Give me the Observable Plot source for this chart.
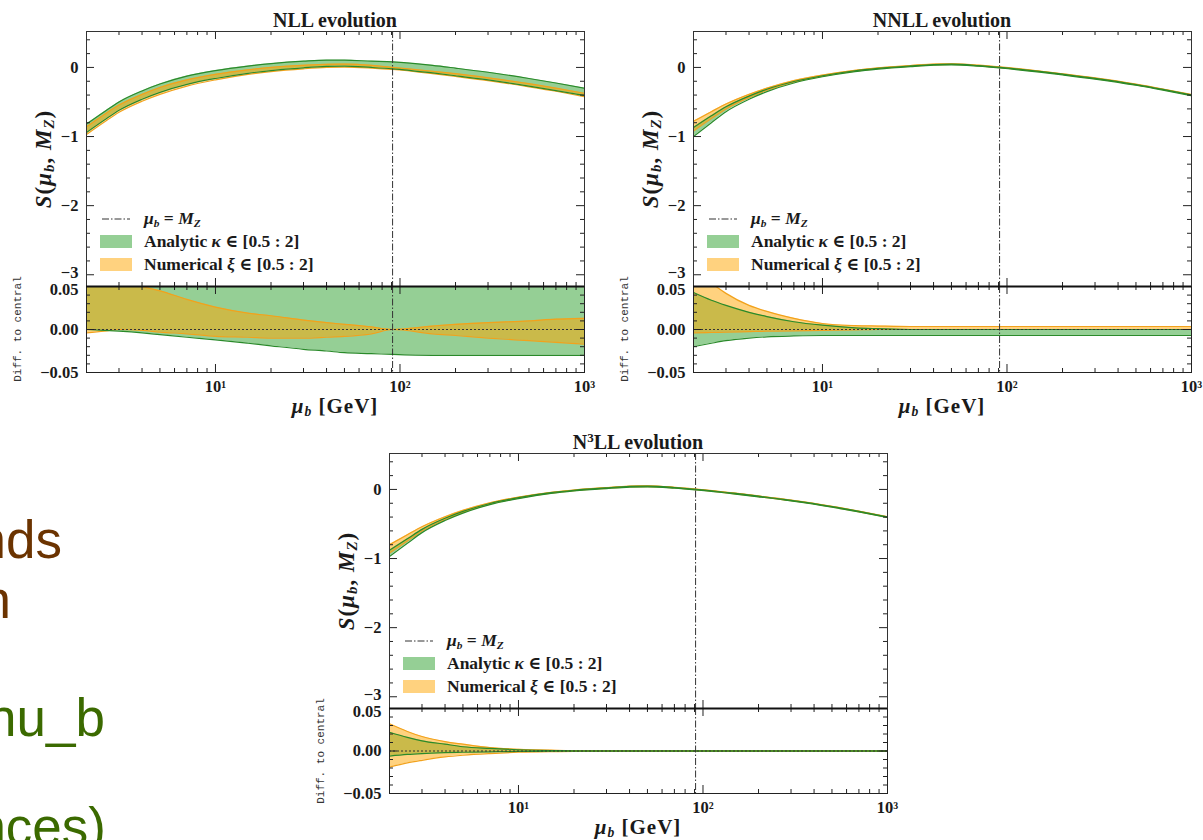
<!DOCTYPE html>
<html><head><meta charset="utf-8">
<script src="https://cdn.jsdelivr.net/npm/d3@7"></script>
<script src="https://cdn.jsdelivr.net/npm/@observablehq/plot@0.6"></script>
<style>
body{margin:0;background:#fff;}
#root{position:relative;width:1203px;height:840px;overflow:hidden;background:#fff;font-family:"Liberation Serif","DejaVu Serif",serif;color:#1a1a1a;}
.abs{position:absolute;white-space:nowrap;line-height:1;}
.c{transform:translate(-50%,-50%);}
.rot{transform:translate(-50%,-50%) rotate(-90deg);}
.title{font-weight:bold;font-size:20px;}
.ylab{font-weight:bold;font-size:23px;letter-spacing:1px;}
.rlab{font-family:"Liberation Mono",monospace;font-size:11px;color:#333;}
.xlab{font-weight:bold;font-size:21px;letter-spacing:1px;}
.leg{font-weight:bold;font-size:17.5px;}
.frag{font-family:"Liberation Sans",Arial,sans-serif;font-size:53px;line-height:53px;text-align:right;}
sub{font-size:65%;vertical-align:-0.25em;line-height:0;}
sup{font-size:65%;vertical-align:0.55em;line-height:0;}
</style></head><body><div id="root"></div><script>
// ---- data ----
const mu = [2, 2.5, 3, 4, 5, 7, 10, 15, 20, 30, 40, 50, 70, 91.19, 150, 200, 300, 500, 700, 1000];
const MZ = 91.1876;

// main panels S(mu_b, M_Z): band edges
const nllGreenLo  = [-0.94, -0.76, -0.62, -0.46, -0.36, -0.245, -0.16, -0.085, -0.045, -0.005, 0.015, 0.02, 0.0, -0.02, -0.08, -0.12, -0.18, -0.27, -0.335, -0.405];
const nllGreenHi  = [-0.82, -0.64, -0.50, -0.34, -0.24, -0.125, -0.045, 0.02, 0.055, 0.09, 0.105, 0.105, 0.09, 0.08, 0.03, -0.01, -0.07, -0.16, -0.225, -0.30];
const nllOrangeLo = [-0.97, -0.79, -0.65, -0.49, -0.39, -0.27, -0.18, -0.10, -0.06, -0.02, 0.0, 0.005, -0.01, -0.03, -0.09, -0.13, -0.19, -0.28, -0.345, -0.425];
const nllOrangeHi = [-0.86, -0.68, -0.545, -0.39, -0.29, -0.18, -0.10, -0.035, 0.0, 0.03, 0.045, 0.048, 0.03, 0.0, -0.055, -0.09, -0.15, -0.235, -0.30, -0.375];

const nnllGreenLo  = [-1.00, -0.80, -0.64, -0.46, -0.35, -0.225, -0.135, -0.06, -0.024, 0.012, 0.032, 0.037, 0.017, -0.008, -0.068, -0.108, -0.168, -0.258, -0.328, -0.408];
const nnllGreenHi  = [-0.87, -0.70, -0.57, -0.415, -0.315, -0.203, -0.12, -0.048, -0.013, 0.022, 0.042, 0.047, 0.027, 0.002, -0.058, -0.098, -0.158, -0.248, -0.318, -0.398];
const nnllOrangeLo = [-0.92, -0.74, -0.60, -0.435, -0.33, -0.21, -0.125, -0.053, -0.017, 0.018, 0.038, 0.043, 0.023, -0.002, -0.062, -0.102, -0.162, -0.252, -0.322, -0.402];
const nnllOrangeHi = [-0.78, -0.64, -0.53, -0.39, -0.30, -0.19, -0.11, -0.042, -0.007, 0.028, 0.048, 0.053, 0.033, 0.008, -0.052, -0.092, -0.152, -0.242, -0.312, -0.392];

const n3llGreenLo  = [-0.97, -0.78, -0.625, -0.45, -0.343, -0.22, -0.132, -0.058, -0.022, 0.013, 0.033, 0.038, 0.018, -0.007, -0.067, -0.107, -0.167, -0.257, -0.327, -0.407];
const n3llGreenHi  = [-0.88, -0.715, -0.578, -0.418, -0.318, -0.203, -0.118, -0.047, -0.012, 0.023, 0.043, 0.048, 0.028, 0.003, -0.057, -0.097, -0.157, -0.247, -0.317, -0.397];
const n3llOrangeLo = [-0.92, -0.745, -0.60, -0.435, -0.332, -0.212, -0.126, -0.054, -0.018, 0.016, 0.036, 0.041, 0.021, -0.004, -0.064, -0.104, -0.164, -0.254, -0.324, -0.404];
const n3llOrangeHi = [-0.80, -0.655, -0.54, -0.395, -0.302, -0.193, -0.112, -0.043, -0.008, 0.027, 0.047, 0.052, 0.032, 0.006, -0.054, -0.094, -0.154, -0.244, -0.314, -0.394];

// ratio panels: difference to central
const nllDiffGreenLo  = [0.0, -0.001, -0.002, -0.004, -0.006, -0.009, -0.012, -0.016, -0.019, -0.023, -0.025, -0.027, -0.028, -0.029, -0.030, -0.030, -0.030, -0.030, -0.030, -0.030];
const nllDiffGreenHi  = [0.08, 0.08, 0.08, 0.08, 0.08, 0.08, 0.08, 0.08, 0.08, 0.08, 0.08, 0.08, 0.08, 0.08, 0.08, 0.08, 0.08, 0.08, 0.08, 0.08];
const nllDiffOrangeLo = [-0.004, -0.002, 0.0, -0.001, -0.003, -0.005, -0.008, -0.009, -0.010, -0.010, -0.009, -0.008, -0.005, 0.0, -0.005, -0.007, -0.010, -0.013, -0.015, -0.017];
const nllDiffOrangeHi = [0.08, 0.065, 0.058, 0.05, 0.045, 0.035, 0.026, 0.019, 0.016, 0.011, 0.008, 0.006, 0.003, 0.0, 0.004, 0.006, 0.008, 0.010, 0.012, 0.013];

const nnllDiffGreenLo  = [-0.020, -0.016, -0.013, -0.010, -0.0085, -0.0075, -0.007, -0.007, -0.007, -0.007, -0.007, -0.007, -0.007, -0.007, -0.007, -0.007, -0.007, -0.007, -0.007, -0.007];
const nnllDiffGreenHi  = [0.043, 0.034, 0.028, 0.020, 0.015, 0.009, 0.005, 0.002, 0.001, 0.0, 0.0, 0.0, 0.0, 0.0, 0.0, 0.0, 0.0, 0.0, 0.0, 0.0];
const nnllDiffOrangeLo = [-0.004, -0.0035, -0.003, -0.0025, -0.002, -0.0015, -0.001, -0.0005, 0.0, 0.0, 0.0, 0.0, 0.0, 0.0, 0.0, 0.0, 0.0, 0.0, 0.0, 0.0];
const nnllDiffOrangeHi = [0.07, 0.054, 0.042, 0.028, 0.021, 0.013, 0.007, 0.0045, 0.004, 0.0035, 0.0035, 0.0035, 0.0035, 0.0035, 0.0035, 0.0035, 0.0035, 0.0035, 0.0035, 0.0035];

const n3llDiffGreenLo  = [-0.006, -0.004, -0.003, -0.002, -0.0015, -0.001, -0.0005, -0.0003, -0.0003, -0.0003, -0.0003, -0.0003, -0.0003, -0.0003, -0.0003, -0.0003, -0.0003, -0.0003, -0.0003, -0.0003];
const n3llDiffGreenHi  = [0.022, 0.016, 0.012, 0.008, 0.005, 0.003, 0.0015, 0.0005, 0.0003, 0.0003, 0.0003, 0.0003, 0.0003, 0.0003, 0.0003, 0.0003, 0.0003, 0.0003, 0.0003, 0.0003];
const n3llDiffOrangeLo = [-0.019, -0.014, -0.011, -0.007, -0.005, -0.003, -0.0015, -0.0008, -0.0006, -0.0006, -0.0006, -0.0006, -0.0006, -0.0006, -0.0006, -0.0006, -0.0006, -0.0006, -0.0006, -0.0006];
const n3llDiffOrangeHi = [0.032, 0.023, 0.017, 0.011, 0.008, 0.004, 0.002, 0.001, 0.0006, 0.0006, 0.0006, 0.0006, 0.0006, 0.0006, 0.0006, 0.0006, 0.0006, 0.0006, 0.0006, 0.0006];

// tick values
const majorX = [10, 100, 1000];
const minorX = [3, 4, 5, 6, 7, 8, 9, 20, 30, 40, 50, 60, 70, 80, 90, 200, 300, 400, 500, 600, 700, 800, 900];
const majorYMain = [-3, -2, -1, 0];
const minorYMain = [-2.8, -2.6, -2.4, -2.2, -1.8, -1.6, -1.4, -1.2, -0.8, -0.6, -0.4, -0.2, 0.2, 0.4];
const majorYDiff = [-0.05, 0, 0.05];
const minorYDiff = [-0.04, -0.03, -0.02, -0.01, 0.01, 0.02, 0.03, 0.04];
const xTickLabels = ["10\u00B9", "10\u00B2", "10\u00B3"];

const titles = ["NLL evolution", "NNLL evolution", "N<sup>3</sup>LL evolution"];
const legendLabels = ["<i>\u03BC<sub>b</sub></i> = <i>M<sub>Z</sub></i>", "Analytic <i>\u03BA</i> \u2208 [0.5 : 2]", "Numerical <i>\u03BE</i> \u2208 [0.5 : 2]"];

// ---- styling / layout ----
const GREEN = "#2ca02c", ORANGE = "#ffa500";
const GREEN_EDGE = "#2a8a2a", ORANGE_EDGE = "#f2a21c";
const SERIF = '"Liberation Serif","DejaVu Serif",serif';
const ML = 80, MR = 2, MT = 2, MB = 34;
const XDOM = [2, 1000], YMAIN = [-3.17, 0.52], YDIFF = [-0.05, 0.05];

const panels = [
  {left: 86, top: 31, width: 498, mainH: 255, ratioH: 86,
   main: [nllGreenLo, nllGreenHi, nllOrangeLo, nllOrangeHi],
   diff: [nllDiffGreenLo, nllDiffGreenHi, nllDiffOrangeLo, nllDiffOrangeHi]},
  {left: 693, top: 31, width: 498, mainH: 255, ratioH: 86,
   main: [nnllGreenLo, nnllGreenHi, nnllOrangeLo, nnllOrangeHi],
   diff: [nnllDiffGreenLo, nnllDiffGreenHi, nnllDiffOrangeLo, nnllDiffOrangeHi]},
  {left: 389, top: 453, width: 498, mainH: 255, ratioH: 85,
   main: [n3llGreenLo, n3llGreenHi, n3llOrangeLo, n3llOrangeHi],
   diff: [n3llDiffGreenLo, n3llDiffGreenHi, n3llDiffOrangeLo, n3llDiffOrangeHi]}
];

const root = document.getElementById("root");
function place(el, left, top) {
  el.style.position = "absolute"; el.style.left = left + "px"; el.style.top = top + "px";
  root.appendChild(el);
}
function html(cls, x, y, content, extra) {
  const d = document.createElement("div");
  d.className = "abs " + cls;
  d.style.left = x + "px"; d.style.top = y + "px";
  if (extra) Object.assign(d.style, extra);
  d.innerHTML = content;
  root.appendChild(d);
  return d;
}

function bandMarks(rows) {
  const c = "monotone-x";
  return [
    Plot.areaY(rows, {x: "mu", y1: "gLo", y2: "gHi", fill: GREEN, fillOpacity: 0.5, curve: c, clip: true}),
    Plot.areaY(rows, {x: "mu", y1: "oLo", y2: "oHi", fill: ORANGE, fillOpacity: 0.5, curve: c, clip: true}),
    Plot.line(rows, {x: "mu", y: "oLo", stroke: ORANGE_EDGE, strokeWidth: 1.2, curve: c, clip: true}),
    Plot.line(rows, {x: "mu", y: "oHi", stroke: ORANGE_EDGE, strokeWidth: 1.2, curve: c, clip: true}),
    Plot.line(rows, {x: "mu", y: "gLo", stroke: GREEN_EDGE, strokeWidth: 1.2, curve: c, clip: true}),
    Plot.line(rows, {x: "mu", y: "gHi", stroke: GREEN_EDGE, strokeWidth: 1.2, curve: c, clip: true})
  ];
}
function tickMarks(W, H, majY, minY) {
  const s = {stroke: "#222", strokeWidth: 1};
  return [
    Plot.tickX(minorX, {...s, insetTop: H - 4}),
    Plot.tickX(minorX, {...s, insetBottom: H - 4}),
    Plot.tickX(majorX, {...s, insetTop: H - 8}),
    Plot.tickX(majorX, {...s, insetBottom: H - 8}),
    Plot.tickY(minY, {...s, insetRight: W - 4}),
    Plot.tickY(minY, {...s, insetLeft: W - 4}),
    Plot.tickY(majY, {...s, insetRight: W - 8}),
    Plot.tickY(majY, {...s, insetLeft: W - 8})
  ];
}
const fmtMain = d => d === 0 ? "0" : (d < 0 ? "\u2212" : "") + Math.abs(d);
const fmtDiff = d => d === 0 ? "0.00" : (d < 0 ? "\u2212" : "") + Math.abs(d).toFixed(2);
const fmtX = d => xTickLabels[majorX.indexOf(d)];
const plotStyle = {fontFamily: SERIF, fontSize: "16.5px", fontWeight: "bold", color: "#1a1a1a", background: "transparent", overflow: "visible"};
const axisText = {fontSize: 16.5, fontWeight: "bold", fontFamily: SERIF, tickSize: 0, tickPadding: 8, label: null};

panels.forEach((p, k) => {
  const W = p.width;
  const mainRows = mu.map((m, i) => ({mu: m, gLo: p.main[0][i], gHi: p.main[1][i], oLo: p.main[2][i], oHi: p.main[3][i]}));
  const diffRows = mu.map((m, i) => ({mu: m, gLo: p.diff[0][i], gHi: p.diff[1][i], oLo: p.diff[2][i], oHi: p.diff[3][i]}));

  const main = Plot.plot({
    width: ML + W + MR, height: MT + p.mainH,
    marginLeft: ML, marginRight: MR, marginTop: MT, marginBottom: 0,
    style: plotStyle,
    x: {type: "log", domain: XDOM, axis: null},
    y: {domain: YMAIN},
    marks: [
      ...bandMarks(mainRows),
      Plot.ruleX([MZ], {stroke: "#333", strokeWidth: 1, strokeDasharray: "7,2,1.5,2"}),
      ...tickMarks(W, p.mainH, majorYMain, minorYMain),
      Plot.axisY({...axisText, ticks: majorYMain.slice(1), tickFormat: fmtMain}),
      Plot.axisY({...axisText, ticks: majorYMain.slice(0, 1), tickFormat: fmtMain, dy: -2}),
      Plot.frame({stroke: "#333", strokeWidth: 1})
    ]
  });
  place(main, p.left - ML, p.top - MT);

  const ratio = Plot.plot({
    width: ML + W + MR, height: p.ratioH + MB,
    marginLeft: ML, marginRight: MR, marginTop: 0, marginBottom: MB,
    style: plotStyle,
    x: {type: "log", domain: XDOM},
    y: {domain: YDIFF},
    marks: [
      ...bandMarks(diffRows),
      Plot.ruleY([0], {stroke: "#333", strokeWidth: 1, strokeDasharray: "2,2"}),
      Plot.ruleX([MZ], {stroke: "#333", strokeWidth: 1, strokeDasharray: "7,2,1.5,2"}),
      ...tickMarks(W, p.ratioH, majorYDiff, minorYDiff),
      Plot.axisY({...axisText, ticks: majorYDiff.slice(0, 2), tickFormat: fmtDiff}),
      Plot.axisY({...axisText, ticks: majorYDiff.slice(2), tickFormat: fmtDiff, dy: 3}),
      Plot.axisX({...axisText, ticks: majorX, tickFormat: fmtX}),
      Plot.frame({stroke: "#222", strokeWidth: 1}),
      Plot.ruleY([YDIFF[1]], {stroke: "#111", strokeWidth: 2})
    ]
  });
  place(ratio, p.left - ML, p.top + p.mainH);

  // texts
  const cx = p.left + W / 2;
  html("title c", cx, p.top - 11, titles[k]);
  html("ylab rot", p.left - 43, p.top + p.mainH / 2, "<i>S</i>(<i>\u03BC<sub>b</sub></i>, <i>M<sub>Z</sub></i>)");
  html("rlab rot", p.left - 68, p.top + p.mainH + p.ratioH / 2, "Diff. to central");
  html("xlab c", cx, p.top + p.mainH + p.ratioH + 34, "<i>\u03BC<sub>b</sub></i> [GeV]");

  // legend
  const lx = p.left + 14, ly = p.top + 188;
  const svgNS = "http://www.w3.org/2000/svg";
  const sw = document.createElementNS(svgNS, "svg");
  sw.setAttribute("width", 34); sw.setAttribute("height", 6);
  sw.innerHTML = '<line x1="2" y1="3" x2="30" y2="3" stroke="#333" stroke-width="1" stroke-dasharray="7,2,1.5,2"/>';
  place(sw, lx, ly - 3);
  const g = document.createElement("div");
  Object.assign(g.style, {width: "32px", height: "13px", background: GREEN, opacity: 0.5});
  place(g, lx, ly + 16);
  const o = document.createElement("div");
  Object.assign(o.style, {width: "32px", height: "13px", background: ORANGE, opacity: 0.5});
  place(o, lx, ly + 39);
  html("leg", lx + 44, ly - 9, legendLabels[0]);
  html("leg", lx + 44, ly + 14, legendLabels[1]);
  html("leg", lx + 44, ly + 37, legendLabels[2]);
});

// fragments of slide text on the left (cut off by the slide edge)
html("frag", 0, 513, "nds", {left: "auto", right: (1203 - 62) + "px", color: "#6b3300"});
html("frag", 0, 573, "n", {left: "auto", right: (1203 - 11) + "px", color: "#6b3300"});
html("frag", 0, 691, "nu_b", {left: "auto", right: (1203 - 105) + "px", color: "#3b6a00"});
html("frag", 0, 800, "nces)", {left: "auto", right: (1203 - 106) + "px", color: "#3b6a00"});
</script></body></html>
